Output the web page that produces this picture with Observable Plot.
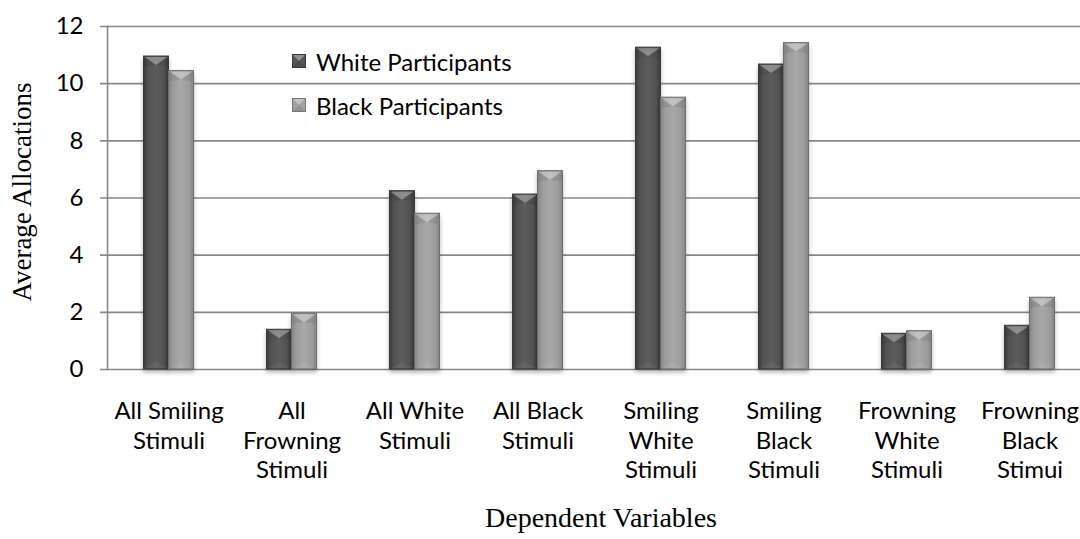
<!DOCTYPE html>
<html>
<head>
<meta charset="utf-8">
<script src="https://cdn.jsdelivr.net/npm/d3@7"></script>
<script src="https://cdn.jsdelivr.net/npm/@observablehq/plot@0.6"></script>
<style>
  body { margin: 0; background: #fff; }
  #wrap { position: relative; width: 1080px; height: 539px; }
  #legend { position: absolute; left: 292px; top: 39px; font-family: Lato, sans-serif; font-size: 24px; color: #000; }
  #legend .row { display: flex; align-items: center; height: 44px; }
  #legend svg { margin-right: 10px; }
</style>
</head>
<body>
<div id="wrap">
  <div id="chart"></div>
  <div id="legend"></div>
</div>
<script>
// Categories (dependent variables) and the two participant groups
const categories = [
  "All Smiling\nStimuli",
  "All\nFrowning\nStimuli",
  "All White\nStimuli",
  "All Black\nStimuli",
  "Smiling\nWhite\nStimuli",
  "Smiling\nBlack\nStimuli",
  "Frowning\nWhite\nStimuli",
  "Frowning\nBlack\nStimui"
];
const series = ["White Participants", "Black Participants"];
const whiteValues = [10.95, 1.39, 6.24, 6.12, 11.26, 10.67, 1.25, 1.53];
const blackValues = [10.44, 1.95, 5.45, 6.94, 9.51, 11.42, 1.34, 2.51];
const yTicks = [0, 2, 4, 6, 8, 10, 12];

// Long-format table for the marks
const rows = categories.flatMap((c, i) => [
  {category: c, series: series[0], value: whiteValues[i]},
  {category: c, series: series[1], value: blackValues[i]}
]);

// Layout
const width = 1080, height = 539;
const xRange = [107, 1091];
const band = (xRange[1] - xRange[0]) / categories.length;
const barW = 25;
const bevel = 9;
const gridColor = "#888888";
const sans = "Lato, sans-serif";
const serif = "'Liberation Serif', 'Times New Roman', serif";

// Bevelled facets drawn over each bar, placed with the plot's own scales
function bevels(index, scales) {
  const x = scales.x, y = scales.y;
  if (!x || !y) return null;
  const bw = typeof x.bandwidth === "function" ? x.bandwidth() : (x.bandwidth ?? band);
  const g = d3.create("svg:g").attr("aria-label", "bevel");
  for (const r of rows) {
    const left = x(r.category) + (r.series === series[0] ? bw / 2 - barW : bw / 2);
    const right = left + barW;
    const top = y(r.value), bottom = y(0);
    const cx = (left + right) / 2;
    const d = Math.min(bevel, (bottom - top) / 2);
    // lit top facet
    g.append("path")
      .attr("d", `M${left + 1},${top + 1}L${right - 1},${top + 1}L${cx},${top + d}Z`)
      .attr("fill", "#fff").attr("fill-opacity", 0.3);
    // shaded side facets near the top
    g.append("path")
      .attr("d", `M${left + 1},${top + 1}L${cx},${top + d}L${left + 1},${top + d + 2}Z`)
      .attr("fill", "#000").attr("fill-opacity", 0.07);
    g.append("path")
      .attr("d", `M${right - 1},${top + 1}L${cx},${top + d}L${right - 1},${top + d + 2}Z`)
      .attr("fill", "#000").attr("fill-opacity", 0.07);
    // bottom facet
    g.append("path")
      .attr("d", `M${left + 1},${bottom - 1}L${right - 1},${bottom - 1}L${cx},${bottom - 7}Z`)
      .attr("fill", "#fff").attr("fill-opacity", 0.06);
  }
  return g.node();
}

const chart = Plot.plot({
  width, height,
  marginLeft: xRange[0], marginRight: 0, marginTop: 26, marginBottom: 170,
  style: {fontFamily: sans, fontSize: "24px", color: "#000", background: "#fff"},
  x: {domain: categories, range: xRange, padding: 0, axis: null},
  y: {domain: [0, 12], axis: null},
  marks: [
    Plot.ruleY(yTicks, {stroke: gridColor, strokeWidth: 1.6, insetLeft: -7}),
    Plot.frame({anchor: "left", stroke: gridColor, strokeWidth: 1.6}),
    Plot.axisY({ticks: yTicks, tickSize: 0, tickPadding: 24, fontSize: 24, fontFamily: sans, label: null}),
    Plot.axisX({tickSize: 0, tickPadding: 29, fontSize: 24, fontFamily: sans, lineHeight: 1.22, label: null}),
    Plot.barY(rows.filter(d => d.series === series[0]), {
      x: "category", y: "value", fill: "url(#gradDark)", stroke: "#3a3a3a", strokeWidth: 1,
      insetLeft: band / 2 - barW, insetRight: band / 2
    }),
    Plot.barY(rows.filter(d => d.series === series[1]), {
      x: "category", y: "value", fill: "url(#gradLight)", stroke: "#6e6e6e", strokeWidth: 1,
      insetLeft: band / 2, insetRight: band / 2 - barW
    }),
    bevels,
    Plot.text(["Average Allocations"], {
      frameAnchor: "left", textAnchor: "middle", rotate: -90, dx: -85, dy: -6, text: d => d,
      fontFamily: serif, fontSize: 27, fill: "#000"
    }),
    Plot.text(["Dependent Variables"], {
      frameAnchor: "bottom", textAnchor: "middle", dy: 157, dx: 7, text: d => d,
      fontFamily: serif, fontSize: 28, fill: "#000"
    })
  ]
});

// Gradients giving the bars their rounded, shaded look
const gradients = [
  {id: "gradDark", stops: [["0", "#3a3a3a"], ["0.18", "#525252"], ["0.5", "#5c5c5c"], ["0.82", "#525252"], ["1", "#3a3a3a"]]},
  {id: "gradLight", stops: [["0", "#858585"], ["0.18", "#9c9c9c"], ["0.5", "#a8a8a8"], ["0.82", "#9c9c9c"], ["1", "#858585"]]}
];
function addDefs(svgSel) {
  const defs = svgSel.insert("defs", ":first-child");
  for (const g of gradients) {
    const lg = defs.append("linearGradient").attr("id", g.id).attr("x1", 0).attr("x2", 1).attr("y1", 0).attr("y2", 0);
    for (const [o, c] of g.stops) lg.append("stop").attr("offset", o).attr("stop-color", c);
  }
}
addDefs(d3.select(chart));
chart.querySelectorAll('g[aria-label="bar"]').forEach(g => {
  g.style.filter = "drop-shadow(0px 3px 2px rgba(0,0,0,0.28))";
});
document.getElementById("chart").append(chart);

// Legend overlaid at the top of the plot area
const legend = d3.select("#legend");
series.forEach((s, i) => {
  const row = legend.append("div").attr("class", "row");
  const sw = row.append("svg").attr("width", 14).attr("height", 14);
  sw.append("rect").attr("x", 0.5).attr("y", 0.5).attr("width", 13).attr("height", 13)
    .attr("fill", i === 0 ? "#555" : "#a3a3a3").attr("stroke", i === 0 ? "#3a3a3a" : "#777");
  sw.append("path").attr("d", "M1,1L13,1L7,7Z").attr("fill", "#fff").attr("fill-opacity", 0.35);
  sw.append("path").attr("d", "M1,13L13,13L7,7Z").attr("fill", "#000").attr("fill-opacity", 0.1);
  row.append("span").text(s);
});
</script>
</body>
</html>
